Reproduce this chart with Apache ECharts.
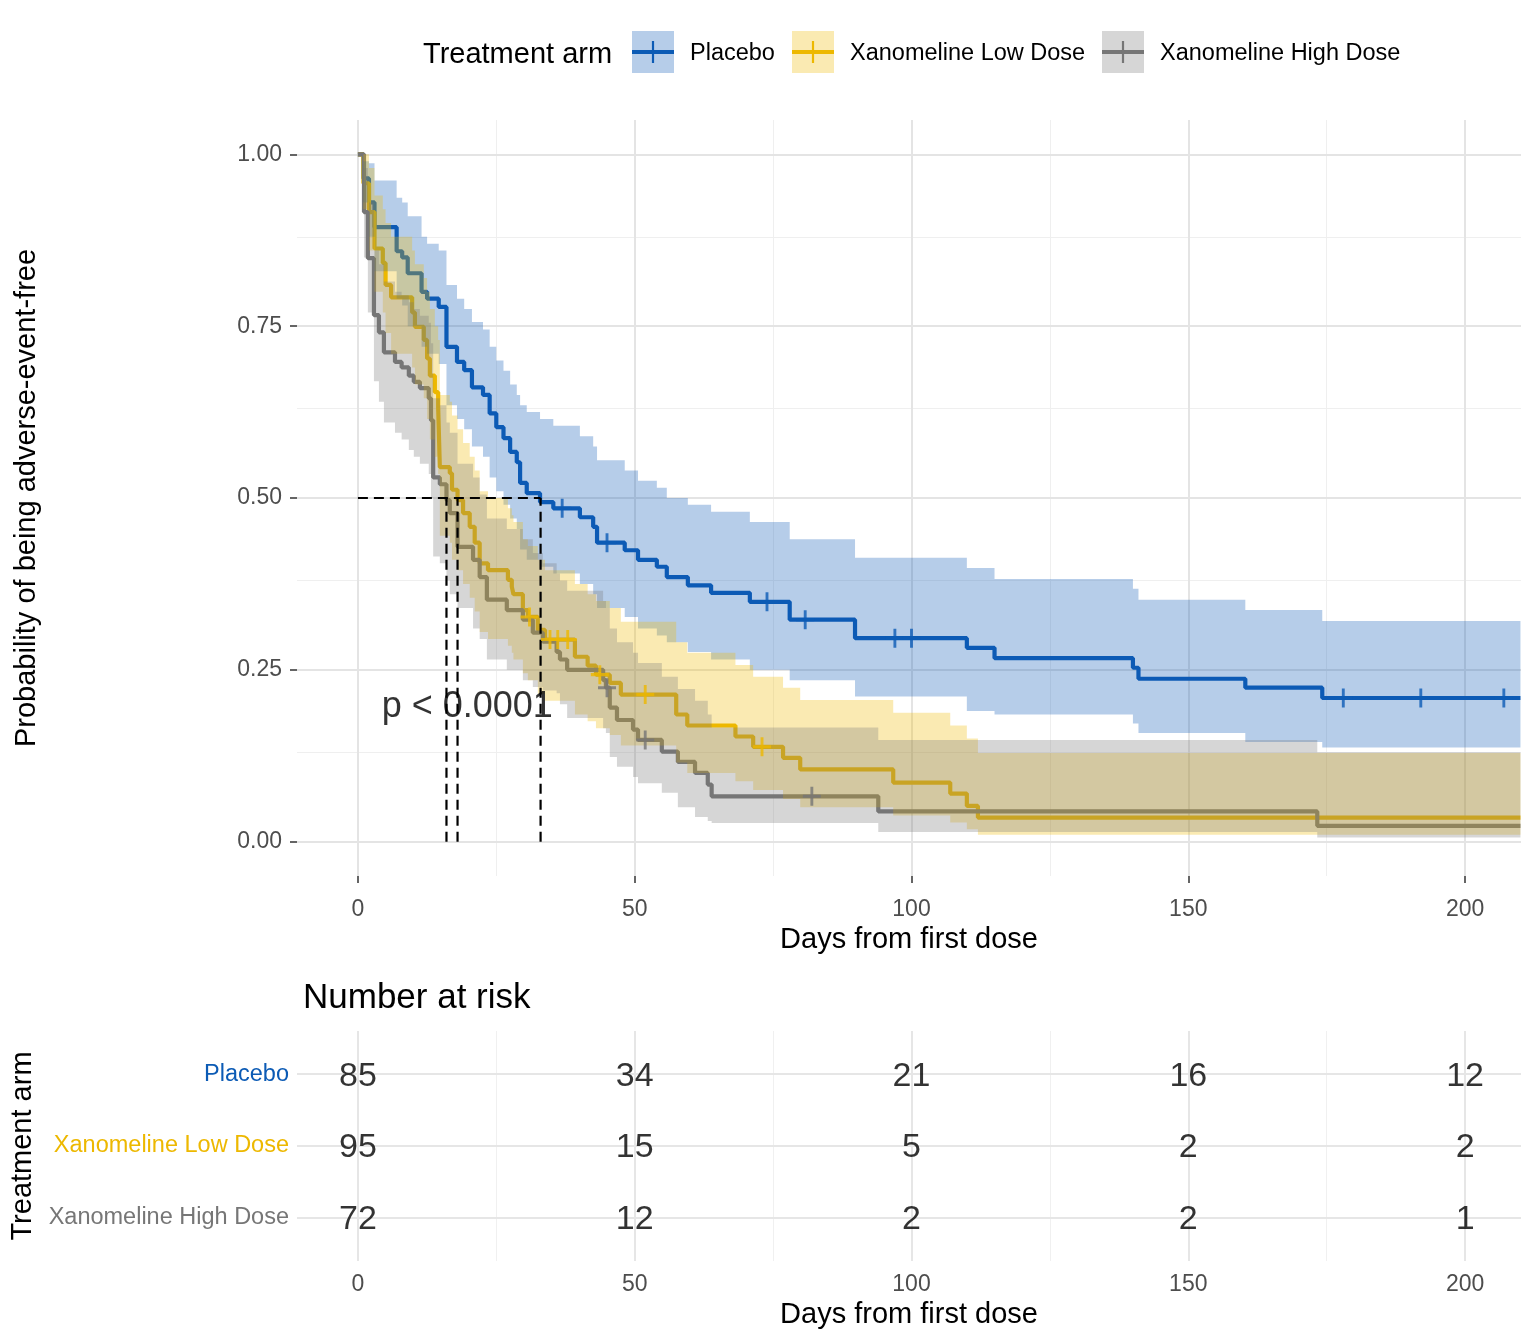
<!DOCTYPE html>
<html>
<head>
<meta charset="utf-8">
<title>Adverse-event-free probability by treatment arm</title>
<script src="https://cdn.jsdelivr.net/npm/echarts@6/dist/echarts.min.js"></script>
<style>
    html, body { margin: 0; padding: 0; background: #fff; }
    #chart { width: 1536px; height: 1344px; }
</style>
</head>
<body>
<div id="chart"></div>
<script>
// arms
const armNames  = ['Placebo', 'Xanomeline Low Dose', 'Xanomeline High Dose']
const armColors = ['#0C5BB5', '#EDB800', '#767676']
const bandColors = ['rgba(12,91,181,0.3)', 'rgba(237,184,0,0.3)', 'rgba(118,118,118,0.3)']

// Placebo: event days, survival, CI
const placeboDays  = [0, 1, 2, 3, 7, 8, 9, 11.5, 12.5, 14.6, 16, 17.9, 19.2, 20.6, 22.6, 23.8, 25, 26.3, 27.5, 28.7, 29.3, 30.5, 32.9, 35.3, 40.1, 42.5, 43.2, 48.2, 50.6, 54, 55.8, 59.6, 63.8, 70.8, 78, 89.8, 110, 115, 140, 141, 160.3, 174.2]
const placeboSurv  = [1, 0.965, 0.93, 0.894, 0.859, 0.85, 0.827, 0.8, 0.79, 0.778, 0.72, 0.698, 0.686, 0.661, 0.65, 0.623, 0.603, 0.587, 0.567, 0.552, 0.522, 0.507, 0.494, 0.485, 0.472, 0.458, 0.435, 0.424, 0.41, 0.4, 0.385, 0.373, 0.362, 0.349, 0.323, 0.296, 0.282, 0.267, 0.253, 0.237, 0.224, 0.209]
const placeboUpper = [1, 0.99, 0.987, 0.962, 0.937, 0.93, 0.91, 0.88, 0.87, 0.86, 0.81, 0.79, 0.775, 0.756, 0.745, 0.72, 0.7, 0.685, 0.665, 0.65, 0.635, 0.625, 0.615, 0.605, 0.59, 0.575, 0.555, 0.54, 0.525, 0.515, 0.5, 0.49, 0.48, 0.465, 0.44, 0.413, 0.398, 0.382, 0.368, 0.352, 0.337, 0.321]
const placeboLower = [1, 0.93, 0.88, 0.83, 0.79, 0.78, 0.75, 0.72, 0.71, 0.695, 0.635, 0.615, 0.6, 0.575, 0.56, 0.53, 0.51, 0.49, 0.47, 0.455, 0.425, 0.41, 0.4, 0.39, 0.375, 0.36, 0.34, 0.327, 0.31, 0.3, 0.29, 0.276, 0.265, 0.25, 0.235, 0.211, 0.19, 0.185, 0.172, 0.158, 0.145, 0.137]
const placeboCensorDays = [36.9, 45, 73.9, 80.8, 97, 100, 178, 192, 207]
const placeboCensorSurv = [0.485, 0.435, 0.349, 0.323, 0.296, 0.296, 0.209, 0.209, 0.209]

// Xanomeline Low Dose
const lowDays  = [0, 1, 2, 3, 4.5, 5, 6, 9.8, 10.3, 11.9, 12.5, 13, 13.9, 14.5, 14.8, 16.6, 17, 18, 19, 20.2, 21.1, 22, 23.5, 27.1, 27.8, 28.1, 29.8, 30.7, 32.5, 33.8, 39.2, 41.5, 43, 45.5, 47.5, 57.5, 59.5, 68.2, 71.4, 76.8, 79.9, 96.7, 107, 110, 112]
const lowSurv  = [1, 0.958, 0.916, 0.863, 0.842, 0.81, 0.792, 0.77, 0.749, 0.73, 0.703, 0.678, 0.654, 0.632, 0.545, 0.536, 0.512, 0.497, 0.478, 0.458, 0.435, 0.405, 0.395, 0.381, 0.371, 0.36, 0.337, 0.327, 0.308, 0.294, 0.269, 0.256, 0.243, 0.231, 0.214, 0.185, 0.169, 0.153, 0.138, 0.122, 0.105, 0.086, 0.07, 0.052, 0.035]
const lowUpper = [1, 1, 0.98, 0.94, 0.92, 0.9, 0.88, 0.86, 0.84, 0.82, 0.8, 0.775, 0.75, 0.73, 0.65, 0.64, 0.62, 0.6, 0.58, 0.56, 0.54, 0.51, 0.5, 0.485, 0.475, 0.465, 0.44, 0.43, 0.41, 0.395, 0.375, 0.36, 0.35, 0.34, 0.32, 0.29, 0.275, 0.257, 0.24, 0.224, 0.206, 0.1875, 0.169, 0.15, 0.129]
const lowLower = [1, 0.92, 0.86, 0.8, 0.77, 0.74, 0.71, 0.69, 0.665, 0.645, 0.615, 0.585, 0.56, 0.535, 0.445, 0.435, 0.41, 0.395, 0.375, 0.355, 0.335, 0.305, 0.295, 0.285, 0.275, 0.265, 0.245, 0.235, 0.215, 0.205, 0.185, 0.175, 0.165, 0.155, 0.14, 0.115, 0.1, 0.088, 0.075, 0.062, 0.05, 0.038, 0.028, 0.018, 0.01]
const lowCensorDays = [31, 34.7, 36.1, 37.9, 43.7, 51.9, 73]
const lowCensorSurv = [0.327, 0.294, 0.294, 0.294, 0.243, 0.214, 0.138]

// Xanomeline High Dose
const highDays  = [0, 1.1, 1.8, 2.9, 3.8, 4.7, 6.7, 7.9, 9.2, 10.1, 11.2, 12.8, 13.2, 13.6, 14.8, 16, 16.6, 18, 20.8, 22, 23.3, 26.9, 29.8, 31.6, 33.4, 35.9, 36.5, 37.8, 44.3, 44.8, 45.5, 46.8, 49.7, 50.6, 54.9, 57.8, 60.9, 63.2, 63.9, 94, 173.3]
const highSurv  = [1, 0.916, 0.849, 0.766, 0.741, 0.712, 0.698, 0.69, 0.678, 0.669, 0.66, 0.645, 0.613, 0.53, 0.52, 0.497, 0.478, 0.429, 0.41, 0.385, 0.352, 0.337, 0.323, 0.304, 0.291, 0.276, 0.265, 0.25, 0.235, 0.224, 0.195, 0.177, 0.163, 0.148, 0.131, 0.116, 0.1, 0.083, 0.066, 0.044, 0.023]
const highUpper = [1, 0.98, 0.93, 0.86, 0.84, 0.815, 0.8, 0.795, 0.785, 0.775, 0.765, 0.755, 0.725, 0.645, 0.635, 0.61, 0.595, 0.55, 0.53, 0.505, 0.47, 0.455, 0.44, 0.42, 0.405, 0.39, 0.38, 0.365, 0.35, 0.34, 0.31, 0.29, 0.275, 0.26, 0.24, 0.222, 0.205, 0.185, 0.166, 0.148, 0.13]
const highLower = [1, 0.85, 0.77, 0.67, 0.64, 0.61, 0.595, 0.585, 0.57, 0.56, 0.55, 0.535, 0.5, 0.415, 0.405, 0.38, 0.36, 0.34, 0.31, 0.295, 0.265, 0.25, 0.235, 0.225, 0.22, 0.216, 0.2, 0.18, 0.165, 0.158, 0.123, 0.109, 0.094, 0.085, 0.071, 0.05, 0.036, 0.03, 0.027, 0.014, 0.006]
const highCensorDays = [45, 51.9, 82]
const highCensorSurv = [0.224, 0.148, 0.066]

// medians and p-value
const medianDays = [16, 18, 33]
const pvalText = 'p < 0.0001'

// number at risk table
const riskDays = [0, 50, 100, 150, 200]
const riskPlacebo = [85, 34, 21, 16, 12]
const riskLow     = [95, 15, 5, 2, 2]
const riskHigh    = [72, 12, 2, 2, 1]

// axis ticks
const dayTicks      = [0, 50, 100, 150, 200]
const dayMinorTicks = [25, 75, 125, 175]
const survTicks      = [0, 0.25, 0.5, 0.75, 1]
const survMinorTicks = [0.125, 0.375, 0.625, 0.875]

const xEnd = 210
const font = 'Liberation Sans, Arial, Helvetica, sans-serif'

const arms = [
    {days: placeboDays, surv: placeboSurv, up: placeboUpper, lo: placeboLower, cDays: placeboCensorDays, cSurv: placeboCensorSurv},
    {days: lowDays,     surv: lowSurv,     up: lowUpper,     lo: lowLower,     cDays: lowCensorDays,     cSurv: lowCensorSurv},
    {days: highDays,    surv: highSurv,    up: highUpper,    lo: highLower,    cDays: highCensorDays,    cSurv: highCensorSurv},
]
const riskRows = [riskPlacebo, riskLow, riskHigh]

const plusSymbol = 'path://M-1.6,-10H1.6V-1.6H10V1.6H1.6V10H-1.6V1.6H-10V-1.6H-1.6Z'

// step band as one polygon, built from the series data through the axes
function bandRenderer(fill) {
    return function (params, api) {
        if (params.dataIndexInside !== 0) return null
        const n = params.dataInsideLength
        let top = [], bot = []
        for (let j = 0; j < n; j++) {
            const t0 = api.value(0, j)
            const t1 = j < n - 1 ? api.value(0, j + 1) : xEnd
            const lo = api.value(1, j), up = api.value(2, j)
            top.push(api.coord([t0, up]), api.coord([t1, up]))
            bot.push(api.coord([t0, lo]), api.coord([t1, lo]))
        }
        return {
            type: 'polygon',
            shape: {points: top.concat(bot.reverse())},
            style: {fill: fill},
        }
    }
}

// grid lines drawn as mark lines
function gridLines(idx, xs, ys, color, width) {
    return {
        type: 'line', xAxisIndex: idx, yAxisIndex: idx, data: [], silent: true, z: 1,
        markLine: {
            silent: true, symbol: 'none', animation: false, z: 1,
            label: {show: false},
            lineStyle: {color: color, width: width, type: 'solid'},
            data: xs.map(v => ({xAxis: v})).concat(ys.map(v => ({yAxis: v}))),
        },
    }
}

let series = []
series.push(gridLines(0, dayMinorTicks, survMinorTicks, '#efefef', 1))
series.push(gridLines(0, dayTicks, survTicks, '#e4e4e4', 2))
series.push(gridLines(1, dayMinorTicks, [], '#f0f0f0', 1))
series.push(gridLines(1, dayTicks, [0, 1, 2], '#e6e6e6', 2))

arms.forEach((arm, i) => {
    const last = arm.surv[arm.surv.length - 1]
    series.push({
        name: armNames[i], type: 'line', step: 'end', symbol: 'none', z: 10,
        lineStyle: {color: armColors[i], width: 4.2},
        data: arm.days.map((d, k) => [d, arm.surv[k]]).concat([[xEnd, last]]),
    })
})
arms.forEach((arm, i) => {
    series.push({
        name: armNames[i] + ' CI', type: 'custom', z: 11, silent: true, clip: true,
        renderItem: bandRenderer(bandColors[i]),
        data: arm.days.map((d, k) => [d, arm.lo[k], arm.up[k]]),
    })
})

// median lines
const dash = {color: '#000', width: 2.2, type: [10, 6]}
series.push({
    type: 'line', symbol: 'none', z: 12, lineStyle: dash,
    data: [[0, 0.5], [Math.max(...medianDays), 0.5]],
})
medianDays.forEach(d => {
    series.push({type: 'line', symbol: 'none', z: 12, lineStyle: dash, data: [[d, 0], [d, 0.5]]})
})

// censor marks
arms.forEach((arm, i) => {
    series.push({
        type: 'scatter', symbol: plusSymbol, symbolSize: [18, 19], z: 13,
        itemStyle: {color: armColors[i]},
        data: arm.cDays.map((d, k) => [d, arm.cSurv[k]]),
    })
})

// p-value
series.push({
    type: 'scatter', symbolSize: 0, z: 14, silent: true,
    data: [[4.3, 0.198]],
    label: {show: true, position: 'right', distance: 0, offset: [0, 2], formatter: pvalText, fontSize: 36, color: '#000', fontFamily: font},
})

// numbers at risk
let riskData = []
riskRows.forEach((row, i) => row.forEach((n, k) => riskData.push([riskDays[k], i, n])))
series.push({
    type: 'scatter', xAxisIndex: 1, yAxisIndex: 1, symbolSize: 0, z: 10, silent: true,
    data: riskData,
    label: {show: true, position: 'inside', offset: [0, 2], formatter: p => p.value[2], fontSize: 34, color: '#000', fontFamily: font},
})

// legend drawn by hand (key = band + line + censor mark)
const legendKeyX = [632, 792, 1102]
let graphic = [
    {type: 'text', x: 423, y: 55, style: {text: 'Treatment arm', fontSize: 29, fontFamily: font, fill: '#000', verticalAlign: 'middle'}},
    {type: 'text', x: 303, y: 998, style: {text: 'Number at risk', fontSize: 35, fontFamily: font, fill: '#000', verticalAlign: 'middle'}},
]
legendKeyX.forEach((x, i) => {
    graphic.push({type: 'rect', shape: {x: x, y: 31, width: 42, height: 42}, style: {fill: bandColors[i]}})
    graphic.push({type: 'line', shape: {x1: x, y1: 52, x2: x + 42, y2: 52}, style: {stroke: armColors[i], lineWidth: 4.2}})
    graphic.push({type: 'line', shape: {x1: x + 21, y1: 41, x2: x + 21, y2: 63}, style: {stroke: armColors[i], lineWidth: 2.2}})
    graphic.push({type: 'text', x: x + 58, y: 54, style: {text: armNames[i], fontSize: 23.5, fontFamily: font, fill: '#000', verticalAlign: 'middle'}})
})

const tickLabel = {fontSize: 23, color: '#4d4d4d', fontFamily: font}
const nameStyle = {fontSize: 29, color: '#000', fontFamily: font}

let rich = {}
armNames.forEach((n, i) => rich['a' + i] = {fontSize: 23.5, color: armColors[i], fontFamily: font})

const option = {
    animation: false,
    textStyle: {fontFamily: font},
    grid: [
        {left: 297, right: 15, top: 120, bottom: 468},
        {left: 297, right: 15, top: 1031, bottom: 83},
    ],
    xAxis: [
        {
            type: 'value', gridIndex: 0, min: -11, max: 210.1,
            splitLine: {show: false},
            axisLine: {show: false, onZero: false},
            axisTick: {show: true, length: 7, lineStyle: {color: '#333', width: 1.5}, customValues: dayTicks},
            axisLabel: Object.assign({customValues: dayTicks, margin: 22}, tickLabel),
            name: 'Days from first dose', nameLocation: 'middle', nameGap: 49, nameTextStyle: nameStyle,
        },
        {
            type: 'value', gridIndex: 1, min: -11, max: 210.1,
            splitLine: {show: false},
            axisLine: {show: false, onZero: false},
            axisTick: {show: false, customValues: dayTicks},
            axisLabel: Object.assign({customValues: dayTicks, margin: 12}, tickLabel),
            name: 'Days from first dose', nameLocation: 'middle', nameGap: 39, nameTextStyle: nameStyle,
        },
    ],
    yAxis: [
        {
            type: 'value', gridIndex: 0, min: -0.05, max: 1.05,
            splitLine: {show: false},
            axisLine: {show: false, onZero: false},
            axisTick: {show: true, length: 7, lineStyle: {color: '#333', width: 1.5}, customValues: survTicks},
            axisLabel: Object.assign({customValues: survTicks, margin: 15, formatter: v => Number(v).toFixed(2)}, tickLabel),
            name: 'Probability of being adverse-event-free', nameLocation: 'middle', nameGap: 256, nameRotate: 90,
            nameTextStyle: nameStyle,
        },
        {
            type: 'value', gridIndex: 1, min: -0.6, max: 2.6, inverse: true,
            splitLine: {show: false},
            axisLine: {show: false, onZero: false},
            axisTick: {show: false, customValues: [0, 1, 2]},
            axisLabel: {customValues: [0, 1, 2], margin: 8, formatter: v => '{a' + v + '|' + armNames[v] + '}', rich: rich},
            name: 'Treatment arm', nameLocation: 'middle', nameGap: 256, nameRotate: 90,
            nameTextStyle: nameStyle,
        },
    ],
    graphic: graphic,
    series: series,
}

const chart = echarts.init(document.getElementById('chart'))
chart.setOption(option)
</script>
</body>
</html>
